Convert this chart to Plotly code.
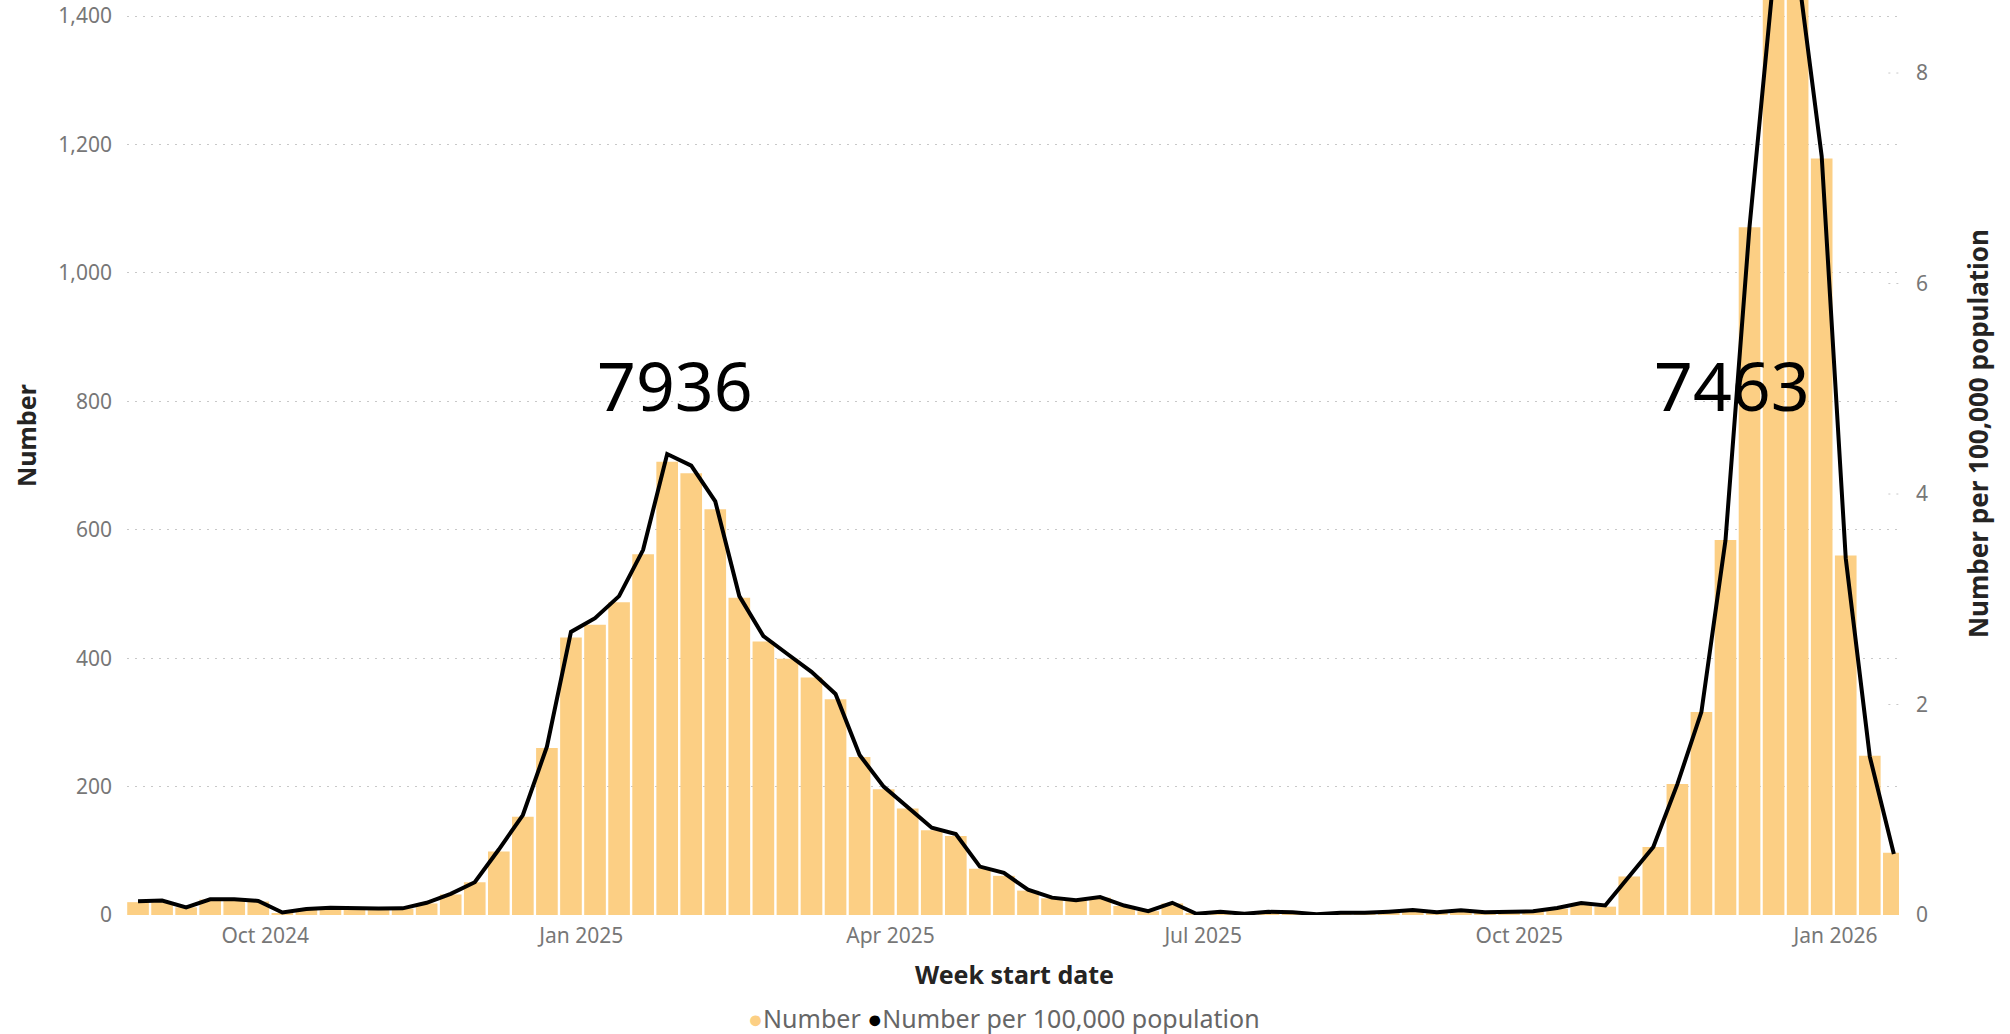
import plotly.graph_objects as go
import pandas as pd

# ---- data -------------------------------------------------------------
first_week = "2024-08-25"
n_weeks = 74
week_start = pd.date_range(first_week, periods=n_weeks, freq="7D")

number = [20, 20, 12, 24, 24, 21, 3, 8, 10, 9,
          8, 10, 18, 32, 51, 99, 153, 260, 432, 452,
          487, 562, 706, 688, 632, 494, 426, 399, 370, 336,
          246, 196, 166, 132, 123, 72, 61, 38, 26, 22,
          27, 14, 6, 18, 2, 5, 2, 5, 4, 1,
          3, 3, 5, 7, 4, 7, 4, 5, 5, 10,
          17, 13, 60, 106, 204, 316, 584, 1071, 1458, 1479,
          1178, 560, 248, 97]

rate_per_100k = [0.130, 0.137, 0.073, 0.149, 0.149, 0.134, 0.024, 0.057, 0.070, 0.063,
                 0.061, 0.063, 0.116, 0.201, 0.311, 0.622, 0.95, 1.60, 2.69, 2.82,
                 3.03, 3.47, 4.38, 4.27, 3.93, 3.03, 2.65, 2.48, 2.31, 2.10,
                 1.52, 1.22, 1.02, 0.83, 0.77, 0.46, 0.40, 0.24, 0.165, 0.14,
                 0.17, 0.09, 0.037, 0.116, 0.012, 0.03, 0.012, 0.03, 0.027, 0.007,
                 0.021, 0.021, 0.032, 0.047, 0.026, 0.045, 0.027, 0.035, 0.035, 0.067,
                 0.113, 0.091, 0.37, 0.646, 1.243, 1.93, 3.56, 6.54, 8.92, 8.99,
                 7.21, 3.39, 1.505, 0.58]

season_totals = ["7936", "7463"]
left_ticks = [0, 200, 400, 600, 800, 1000, 1200, 1400]
right_ticks = [0, 2, 4, 6, 8]

# ---- styles -----------------------------------------------------------
FONT = "Noto Sans"
BAR_COLOR = "#FCCF84"
TICK_COLOR = "#777777"
TITLE_COLOR = "#252423"
GRID_COLOR = "#C8C8C8"

fig = go.Figure()
fig.add_trace(go.Bar(x=week_start, y=number, name="Number",
                     marker=dict(color=BAR_COLOR, line=dict(width=0)),
                     showlegend=False))
fig.add_trace(go.Scatter(x=week_start, y=rate_per_100k, yaxis="y2",
                         name="Number per 100,000 population", mode="lines",
                         line=dict(color="black", width=4), showlegend=False))

shapes = []
for v in right_ticks[1:]:
    shapes.append(dict(type="line", xref="paper", yref="y2", x0=0.994, x1=1.0,
                       y0=v, y1=v, line=dict(color=GRID_COLOR, width=1, dash="2px,6px"),
                       layer="below"))

legend_text = ('<span style="color:%s">●</span>Number '
               '<span style="color:black">●</span>Number per 100,000 population') % BAR_COLOR

annotations = [
    dict(text=season_totals[0], xref="paper", yref="paper", x=0.3095, y=0.5797,
         showarrow=False, font=dict(family=FONT, size=68, color="black"),
         xanchor="center", yanchor="middle"),
    dict(text=season_totals[1], xref="paper", yref="paper", x=0.9060, y=0.5797,
         showarrow=False, font=dict(family=FONT, size=68, color="black"),
         xanchor="center", yanchor="middle"),
    dict(text="<b>Week start date</b>", xref="paper", yref="paper", x=0.5006, y=-0.0645,
         showarrow=False, font=dict(family=FONT, size=25, color=TITLE_COLOR),
         xanchor="center", yanchor="middle"),
    dict(text="<b>Number</b>", xref="paper", yref="paper", x=-0.057, y=0.5246,
         textangle=-90, showarrow=False, font=dict(family=FONT, size=25, color=TITLE_COLOR),
         xanchor="center", yanchor="middle"),
    dict(text="<b>Number per 100,000 population</b>", xref="paper", yref="paper",
         x=1.0446, y=0.5257, textangle=-90, showarrow=False,
         font=dict(family=FONT, size=26, color=TITLE_COLOR),
         xanchor="center", yanchor="middle"),
    dict(text=legend_text,
         xref="paper", yref="paper", x=0.495, y=-0.1125, showarrow=False,
         font=dict(family=FONT, size=25, color="#666666"),
         xanchor="center", yanchor="middle"),
]

fig.update_layout(
    width=2010, height=1034,
    margin=dict(l=127, r=111, t=0, b=119),
    paper_bgcolor="white", plot_bgcolor="white",
    bargap=0.1,
    font=dict(family=FONT, size=21, color=TICK_COLOR),
    xaxis=dict(type="date", range=["2024-08-21 19:00", "2026-01-19 12:00"],
               tick0="2024-10-01", dtick="M3", tickformat="%b %Y",
               showgrid=False, zeroline=False, showline=False, ticks="",
               tickfont=dict(family=FONT, size=21, color=TICK_COLOR),
               ticklabelstandoff=6),
    yaxis=dict(range=[0, 1425], tickvals=left_ticks, tickformat=",",
               showgrid=True, gridcolor=GRID_COLOR, gridwidth=1, griddash="2px,6px",
               zeroline=False, showline=False, ticks="",
               tickfont=dict(family=FONT, size=21, color=TICK_COLOR),
               ticklabelstandoff=14),
    yaxis2=dict(overlaying="y", side="right", range=[0, 8.694], tickvals=right_ticks,
                showgrid=False, zeroline=False, showline=False, ticks="",
                tickfont=dict(family=FONT, size=21, color=TICK_COLOR),
                ticklabelstandoff=16),
    shapes=shapes,
    annotations=annotations,
)

fig.write_html("out.html", config={"displayModeBar": False},
               post_script="document.body.style.margin='0px';document.body.style.overflow='hidden';")
